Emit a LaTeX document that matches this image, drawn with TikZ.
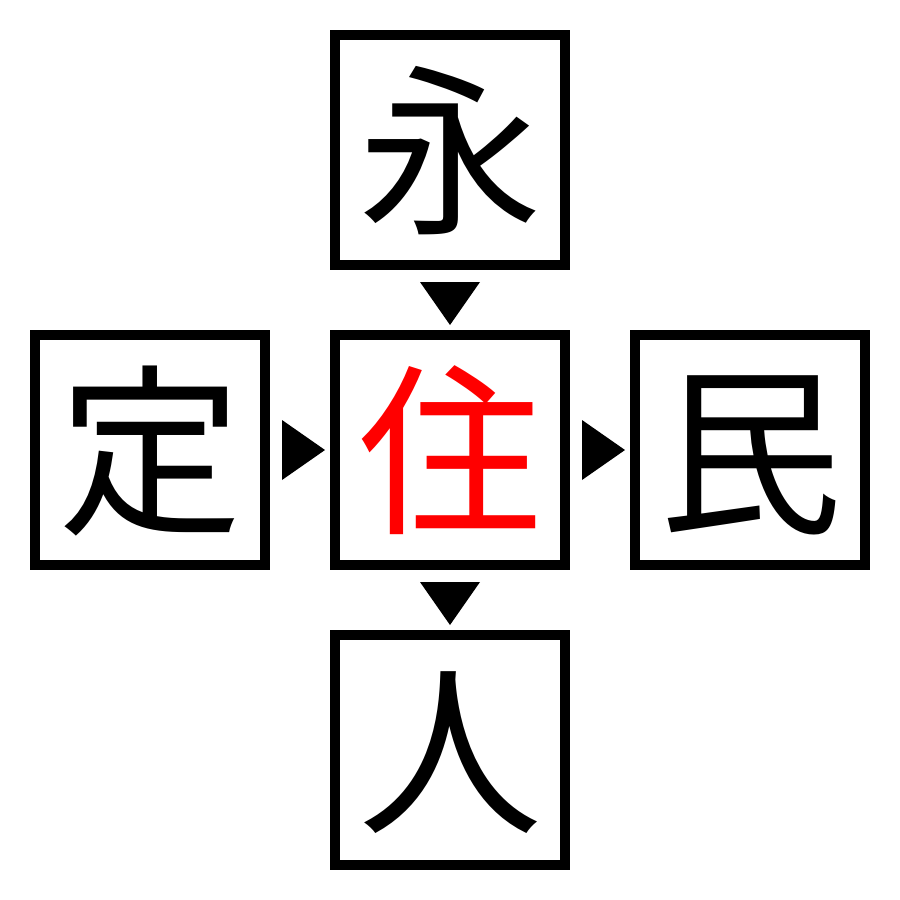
\documentclass[tikz,border=0pt]{standalone}
\usepackage{fontspec}
\newfontfamily\cjk{Noto Sans CJK JP}
\usetikzlibrary{calc}
\begin{document}
\begin{tikzpicture}[x=0.5pt,y=-0.5pt,
  box/.style={draw, line width=5pt, minimum size=115pt, inner sep=0pt, text height=81pt, text depth=11pt, font=\cjk\fontsize{92}{92}\selectfont},
  tri/.style={fill=black}]
\useasboundingbox (0,0) rectangle (900,900);
\node[box] (c) at (450,450) {\textcolor{red}{住}};
\node[box] (t) at (450,150) {永};
\node[box] (l) at (150,450) {定};
\node[box] (r) at (750,450) {民};
\node[box] (b) at (450,750) {人};
% arrowheads
\fill[tri] (c.center) ++(-168,-30) -- ++(0,60) -- ++(43,-30) -- cycle;
\fill[tri] (r.center) ++(-168,-30) -- ++(0,60) -- ++(43,-30) -- cycle;
\fill[tri] (c.center) ++(-30,-168) -- ++(60,0) -- ++(-30,43) -- cycle;
\fill[tri] (b.center) ++(-30,-168) -- ++(60,0) -- ++(-30,43) -- cycle;
\end{tikzpicture}
\end{document}
